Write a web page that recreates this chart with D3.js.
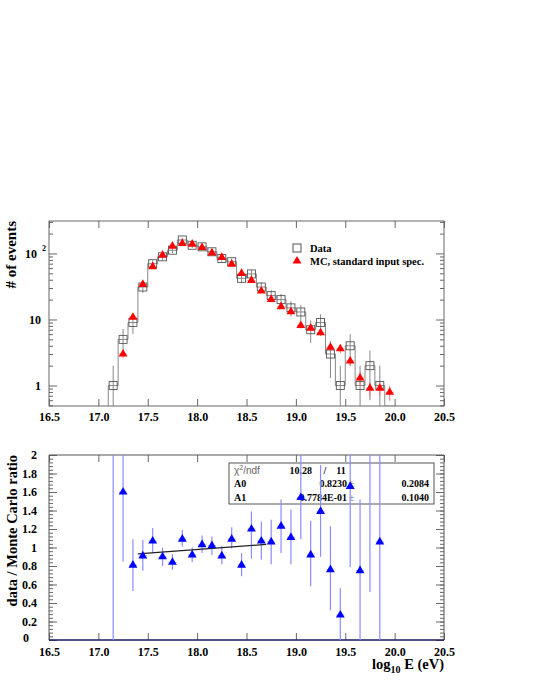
<!DOCTYPE html>
<html>
<head>
<meta charset="utf-8">
<script src="https://cdn.jsdelivr.net/npm/d3@7"></script>
<style>
  body { margin: 0; background: #fff; }
  svg { display: block; font-family: "Liberation Serif", "DejaVu Serif", serif; }
  .tick text { font-family: "Liberation Serif", "DejaVu Serif", serif; font-weight: bold; font-size: 12px; fill: #000; }
  .tick line { stroke: #666; }
</style>
</head>
<body>
<svg id="chart" width="533" height="690"></svg>
<script>
// ─── Data (log10 E bins, 0.1 wide) ─────────────────────────────────────────
const binCenters = [17.15, 17.25, 17.35, 17.45, 17.55, 17.65, 17.75, 17.85, 17.95, 18.05,
                    18.15, 18.25, 18.35, 18.45, 18.55, 18.65, 18.75, 18.85, 18.95, 19.05,
                    19.15, 19.25, 19.35, 19.45, 19.55, 19.65, 19.75, 19.85, 19.95];
const dataCounts = [1, 5, 9, 31, 70, 89, 112, 160, 133, 126,
                    106, 84, 75, 42, 49, 31, 23, 20, 15, 13,
                    7, 9, 3, 1, 4, 1, 2, 1, 0];
const dataErr    = [1, 2.2, 3, 5.6, 8.4, 9.4, 10.6, 12.6, 11.5, 11.2,
                    10.3, 9.2, 8.7, 6.5, 7, 5.6, 4.8, 4.5, 3.9, 3.6,
                    2.6, 3, 1.7, 1, 2, 1, 1.4, 1, 0];
const mcCounts   = [null, 3.0, 10.8, 34, 63, 94, 129, 142, 138, 123,
                    102, 87, 69, 50, 39, 27, 20.2, 15.6, 13.1, 8.1,
                    7.4, 6.3, 3.8, 3.6, 2.35, 1.3, 0.91, 0.91, 0.79];
const mcErr      = [0, 0.4, 0.8, 1.5, 2.2, 2.8, 3.2, 3.5, 3.4, 3.2,
                    2.9, 2.7, 2.4, 2.0, 1.8, 1.5, 1.3, 1.1, 1.0, 0.8,
                    0.8, 0.7, 0.5, 0.5, 0.4, 0.3, 0.22, 0.22, 0.2];

// data / MC ratio (bins 17.15 .. 19.85)
const ratioVal = [null, 1.60, 0.81, 0.91, 1.07, 0.90, 0.84, 1.09, 0.92, 1.03,
                  1.02, 0.91, 1.09, 0.81, 1.20, 1.07, 1.06, 1.23, 1.11, 1.54,
                  0.92, 1.39, 0.76, 0.27, 1.66, 0.75, 2.20, 1.06];
const ratioLo  = [0, 0.85, 0.53, 0.75, 0.94, 0.80, 0.76, 1.01, 0.84, 0.94,
                  0.92, 0.82, 0.99, 0.69, 0.88, 0.87, 0.82, 0.94, 0.82, 1.09,
                  0.58, 0.90, 0.32, 0, 0.79, 0, 0.52, 0];
const ratioHi  = [3, 3, 1.09, 1.08, 1.21, 1.00, 0.93, 1.19, 1.00, 1.13,
                  1.12, 1.02, 1.22, 0.94, 1.39, 1.28, 1.30, 1.52, 1.41, 3,
                  1.29, 1.89, 1.23, 0.56, 3, 1.52, 3, 3];

// linear fit A0 + A1*(x - 16)
const fitA0 = 0.8230, fitA0Err = 0.2084;
const fitA1 = 0.07784, fitA1Err = 0.1040;
const fitRange = [17.4, 18.7];
const fitChi2 = '10.28', fitNdf = '11';

const xTicks = [16.5, 17.0, 17.5, 18.0, 18.5, 19.0, 19.5, 20.0, 20.5];
const logMajor = [1, 10, 100];
const logMinor = [0.5, 0.6, 0.7, 0.8, 0.9, 2, 3, 4, 5, 6, 7, 8, 9,
                  20, 30, 40, 50, 60, 70, 80, 90, 200, 300];
const ratioTicks = [0, 0.2, 0.4, 0.6, 0.8, 1, 1.2, 1.4, 1.6, 1.8, 2];

// ─── Layout ─────────────────────────────────────────────────────────────────
const L = 49, R = 444;
const top1 = 221, bot1 = 406;
const top2 = 455, bot2 = 640;
const BW = 0.1;

const svg = d3.select('#chart');
const x = d3.scaleLinear().domain([16.5, 20.5]).range([L, R]);
const yTop = d3.scaleLog().domain([0.49, 310]).range([bot1, top1]).clamp(true);
const yBot = d3.scaleLinear().domain([0, 2]).range([bot2, top2]);

const defs = svg.append('defs');
defs.append('clipPath').attr('id', 'clip1').append('rect')
  .attr('x', L).attr('y', top1).attr('width', R - L).attr('height', bot1 - top1);
defs.append('clipPath').attr('id', 'clip2').append('rect')
  .attr('x', L).attr('y', top2).attr('width', R - L).attr('height', bot2 - top2);

function stripDomain(g) { g.select('.domain').remove(); }

// ─── Top panel ──────────────────────────────────────────────────────────────
const p1 = svg.append('g');
p1.append('rect').attr('x', L).attr('y', top1).attr('width', R - L).attr('height', bot1 - top1)
  .attr('fill', 'none').attr('stroke', '#666');

p1.append('g').attr('transform', `translate(0,${bot1})`)
  .call(d3.axisBottom(x).tickValues(xTicks).tickSize(-7).tickPadding(6).tickFormat(d3.format('.1f')))
  .call(stripDomain);
p1.append('g').attr('transform', `translate(0,${top1})`)
  .call(d3.axisTop(x).tickValues(xTicks).tickSize(-7).tickFormat(() => ''))
  .call(stripDomain);

const yAx1 = p1.append('g').attr('transform', `translate(${L},0)`)
  .call(d3.axisLeft(yTop).tickValues(logMajor).tickSize(-8).tickPadding(8).tickFormat(d => d === 100 ? '10' : String(d)))
  .call(stripDomain);
yAx1.selectAll('.tick').filter(d => d === 100).select('text').attr('x', -12);
yAx1.selectAll('.tick').filter(d => d === 100).append('text')
  .attr('x', -3).attr('y', -3).attr('text-anchor', 'end')
  .style('font-size', '8px').text('2');
p1.append('g').attr('transform', `translate(${L},0)`)
  .call(d3.axisLeft(yTop).tickValues(logMinor).tickSize(-4).tickFormat(() => ''))
  .call(stripDomain);
p1.append('g').attr('transform', `translate(${R},0)`)
  .call(d3.axisRight(yTop).tickValues(logMajor).tickSize(-8).tickFormat(() => ''))
  .call(stripDomain);
p1.append('g').attr('transform', `translate(${R},0)`)
  .call(d3.axisRight(yTop).tickValues(logMinor).tickSize(-4).tickFormat(() => ''))
  .call(stripDomain);

const plot1 = p1.append('g').attr('clip-path', 'url(#clip1)');

// data histogram outline (steps)
const stepPts = [{ e: binCenters[0] - BW / 2, v: 0 }]
  .concat(binCenters.map((c, i) => ({ e: c - BW / 2, v: dataCounts[i] })))
  .concat([{ e: binCenters[binCenters.length - 1] + BW / 2, v: 0 }]);
plot1.append('path').datum(stepPts)
  .attr('d', d3.line().x(d => x(d.e)).y(d => yTop(Math.max(d.v, 0.49))).curve(d3.curveStepAfter))
  .attr('fill', 'none').attr('stroke', '#888').attr('stroke-width', 1);

const dataPts = binCenters.map((c, i) => ({ c, v: dataCounts[i], err: dataErr[i] })).filter(d => d.v > 0);
plot1.selectAll('line.derr').data(dataPts).join('line')
  .attr('x1', d => x(d.c)).attr('x2', d => x(d.c))
  .attr('y1', d => yTop(Math.max(d.v - d.err, 0.49)))
  .attr('y2', d => yTop(d.v + d.err))
  .attr('stroke', '#888').attr('stroke-width', 1);

// MC points
const mcPts = binCenters.map((c, i) => ({ c, v: mcCounts[i], err: mcErr[i] })).filter(d => d.v);
plot1.selectAll('line.mch').data(mcPts).join('line')
  .attr('x1', d => x(d.c - BW / 2) + 1).attr('x2', d => x(d.c + BW / 2) - 1)
  .attr('y1', d => yTop(d.v)).attr('y2', d => yTop(d.v))
  .attr('stroke', '#ff7070').attr('stroke-width', 0.8).attr('stroke-dasharray', '2,1.5');
plot1.selectAll('line.mcv').data(mcPts).join('line')
  .attr('x1', d => x(d.c)).attr('x2', d => x(d.c))
  .attr('y1', d => yTop(Math.max(d.v - d.err, 0.49))).attr('y2', d => yTop(d.v + d.err))
  .attr('stroke', '#ff7070').attr('stroke-width', 1);

plot1.selectAll('rect.dbox').data(dataPts).join('rect')
  .attr('x', d => x(d.c) - 4).attr('y', d => yTop(d.v) - 4)
  .attr('width', 8).attr('height', 8)
  .attr('fill', 'none').attr('stroke', '#555').attr('stroke-width', 0.9);

const tri = d3.symbol(d3.symbolTriangle, 34);
plot1.selectAll('path.mc').data(mcPts).join('path')
  .attr('d', tri).attr('transform', d => `translate(${x(d.c)},${yTop(d.v)})`)
  .attr('fill', '#ff0000');

// legend
const lg = p1.append('g').style('font-weight', 'bold').style('font-size', '10.5px');
lg.append('rect').attr('x', 293).attr('y', 244).attr('width', 8).attr('height', 8)
  .attr('fill', 'none').attr('stroke', '#555');
lg.append('text').attr('x', 310).attr('y', 252).text('Data');
lg.append('path').attr('d', tri).attr('transform', 'translate(297,261)').attr('fill', '#ff0000');
lg.append('text').attr('x', 310).attr('y', 265).text('MC, standard input spec.');

p1.append('text').attr('transform', `translate(16,${top1}) rotate(-90)`)
  .attr('text-anchor', 'end').style('font-weight', 'bold').style('font-size', '15px')
  .text('# of events');

// ─── Bottom panel ───────────────────────────────────────────────────────────
const p2 = svg.append('g');

p2.append('g').attr('transform', `translate(0,${bot2})`)
  .call(d3.axisBottom(x).tickValues(xTicks).tickSize(-7).tickPadding(7).tickFormat(d3.format('.1f')))
  .call(stripDomain);
p2.append('g').attr('transform', `translate(0,${top2})`)
  .call(d3.axisTop(x).tickValues(xTicks).tickSize(-7).tickFormat(() => ''))
  .call(stripDomain);
const minorRatio = d3.range(0, 2.001, 0.04);
const yAx2 = p2.append('g').attr('transform', `translate(${L},0)`)
  .call(d3.axisLeft(yBot).tickValues(ratioTicks).tickSize(-8).tickPadding(12).tickFormat(d => String(+d.toFixed(1))))
  .call(stripDomain);
// the "0" label sits a little left/up so it clears the 16.5 label
yAx2.selectAll('.tick').filter(d => d === 0).select('text').attr('x', -20).attr('dy', '0.1em');
p2.append('g').attr('transform', `translate(${L},0)`)
  .call(d3.axisLeft(yBot).tickValues(minorRatio).tickSize(-4).tickFormat(() => ''))
  .call(stripDomain);
p2.append('g').attr('transform', `translate(${R},0)`)
  .call(d3.axisRight(yBot).tickValues(ratioTicks).tickSize(-8).tickFormat(() => ''))
  .call(stripDomain);
p2.append('g').attr('transform', `translate(${R},0)`)
  .call(d3.axisRight(yBot).tickValues(minorRatio).tickSize(-4).tickFormat(() => ''))
  .call(stripDomain);

// frame
p2.append('path').attr('d', `M${L},${bot2}V${top2}H${R}V${bot2}`)
  .attr('fill', 'none').attr('stroke', '#555');
p2.append('line').attr('x1', L).attr('x2', R).attr('y1', bot2).attr('y2', bot2)
  .attr('stroke', '#1a1a5e').attr('stroke-width', 1.5);

// stats box
const sb = p2.append('g').style('font-size', '10px');
sb.append('rect').attr('x', 229).attr('y', 463).attr('width', 205).attr('height', 41)
  .attr('fill', '#fff').attr('stroke', '#555');
sb.append('text').attr('x', 234).attr('y', 474).attr('fill', '#666')
  .style('font-family', '"Liberation Sans", Arial, sans-serif').style('font-size', '10px')
  .html('&#967;<tspan dy="-4" font-size="7">2</tspan><tspan dy="4">/ndf</tspan>');
const sbB = sb.append('g').style('font-weight', 'bold');
sbB.append('text').attr('x', 312).attr('y', 474).attr('text-anchor', 'end').text(fitChi2);
sbB.append('text').attr('x', 325).attr('y', 474).attr('text-anchor', 'middle').text('/');
sbB.append('text').attr('x', 341).attr('y', 474).attr('text-anchor', 'middle').text(fitNdf);
sbB.append('text').attr('x', 234).attr('y', 487).text('A0');
sbB.append('text').attr('x', 234).attr('y', 501).text('A1');
sbB.append('text').attr('x', 347).attr('y', 487).attr('text-anchor', 'end').text(fitA0.toFixed(4));
sbB.append('text').attr('x', 347).attr('y', 501).attr('text-anchor', 'end').text('0.7784E-01');
sbB.append('text').attr('x', 429).attr('y', 487).attr('text-anchor', 'end').text(fitA0Err.toFixed(4));
sbB.append('text').attr('x', 429).attr('y', 501).attr('text-anchor', 'end').text(fitA1Err.toFixed(4));
sb.append('text').attr('x', 349).attr('y', 487).attr('fill', '#777').text('±');
sb.append('text').attr('x', 349).attr('y', 501).attr('fill', '#777').text('±');

const plot2 = p2.append('g').attr('clip-path', 'url(#clip2)');
const rPts = ratioVal.map((v, i) => ({ c: binCenters[i], v, lo: ratioLo[i], hi: ratioHi[i] }));

plot2.selectAll('line.rerr').data(rPts).join('line')
  .attr('x1', d => x(d.c)).attr('x2', d => x(d.c))
  .attr('y1', d => yBot(d.lo)).attr('y2', d => yBot(d.hi))
  .attr('stroke', '#8c8cff').attr('stroke-width', 1.2);
const rShown = rPts.filter(d => d.v != null);
plot2.selectAll('line.rh').data(rShown).join('line')
  .attr('x1', d => x(d.c - BW / 2) + 1).attr('x2', d => x(d.c + BW / 2) - 1)
  .attr('y1', d => yBot(d.v)).attr('y2', d => yBot(d.v))
  .attr('stroke', '#8c8cff').attr('stroke-width', 0.8).attr('stroke-dasharray', '2,1.5');

// fit line
plot2.append('path').datum(fitRange)
  .attr('d', d3.line().x(e => x(e)).y(e => yBot(fitA0 + fitA1 * (e - 16))))
  .attr('stroke', '#222').attr('stroke-width', 1.2).attr('fill', 'none');

plot2.selectAll('path.rt').data(rShown).join('path')
  .attr('d', tri).attr('transform', d => `translate(${x(d.c)},${yBot(d.v)})`)
  .attr('fill', '#0000ff');

// axis titles
p2.append('text').attr('transform', `translate(17,${top2}) rotate(-90)`)
  .attr('text-anchor', 'end').style('font-weight', 'bold').style('font-size', '14.5px')
  .text('data / Monte Carlo  ratio');
p2.append('text').attr('x', R).attr('y', 669).attr('text-anchor', 'end')
  .style('font-weight', 'bold').style('font-size', '14.5px')
  .html('log<tspan dy="4" font-size="10">10</tspan><tspan dy="-4"> E (eV)</tspan>');
</script>
</body>
</html>
